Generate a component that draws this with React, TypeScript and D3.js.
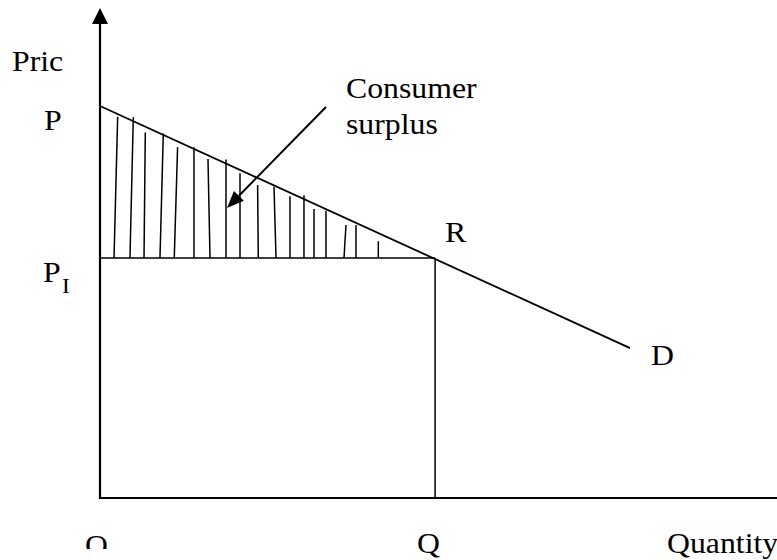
import React from "react";
import * as d3 from "d3";

// Abstract units (quantity on x, price on y)
const priceP = 8.0;
const priceP1 = 4.9;
const quantityQ = 4.95;
const demandEnd = { q: 7.83, p: 3.06 };
const demandStart = { q: 0, p: priceP };

// Hatch lines: bottom quantity, top quantity, top price
const hatchBottomQ = [0.207, 0.443, 0.65, 0.886, 1.097, 1.388, 1.625, 1.861, 2.068, 2.338, 2.6, 2.806, 3.013, 3.161, 3.338, 3.604, 3.781, 4.111];
const hatchTopQ = [0.261, 0.492, 0.669, 0.935, 1.146, 1.388, 1.595, 1.861, 2.068, 2.328, 2.57, 2.806, 3.013, 3.161, 3.338, 3.634, 3.781, 4.111];
const hatchTopP = [7.78, 7.77, 7.46, 7.44, 7.16, 7.16, 6.92, 6.91, 6.63, 6.39, 6.35, 6.16, 6.18, 5.9, 5.86, 5.57, 5.57, 5.24];

const arrowFrom = { q: 3.338, p: 7.98 };
const arrowTo = { q: 1.876, p: 5.92 };

const W = 777;
const H = 560;
const FONT = "'Liberation Serif', 'Times New Roman', Times, serif";
const FS = 30;
const SX = 1.06;

const x = d3.scaleLinear().domain([0, 10]).range([100, 777]);
const y = d3.scaleLinear().domain([0, 10]).range([498, 8]);

function Label({ px, py, text, size = FS }: { px: number; py: number; text: string; size?: number }) {
  return (
    <text
      transform={`translate(${px},${py}) scale(${SX},1)`}
      fontFamily={FONT}
      fontSize={size}
      fill="#000"
    >
      {text}
    </text>
  );
}

export default function App() {
  const line = d3.line<{ q: number; p: number }>().x((d) => x(d.q)).y((d) => y(d.p));
  const demandPath = line([demandStart, demandEnd]) || "";

  const ax1 = x(arrowFrom.q), ay1 = y(arrowFrom.p);
  const ax2 = x(arrowTo.q), ay2 = y(arrowTo.p);
  const ang = Math.atan2(ay2 - ay1, ax2 - ax1);
  const headLen = 17, headHalf = 7;
  const bx = ax2 - headLen * Math.cos(ang), by = ay2 - headLen * Math.sin(ang);
  const head = [
    [ax2, ay2],
    [bx + headHalf * Math.sin(ang), by - headHalf * Math.cos(ang)],
    [bx - headHalf * Math.sin(ang), by + headHalf * Math.cos(ang)],
  ];

  const x0 = x(0), yAxis = y(0), yTop = y(10);

  return (
    <svg width={W} height={H} style={{ position: "absolute", left: 0, top: 0, background: "#fff" }}>
      <defs>
        <clipPath id="oclip">
          <rect x={0} y={0} width={W} height={549} />
        </clipPath>
      </defs>
      <rect x={0} y={0} width={W} height={H} fill="#fff" />
      {/* axes */}
      <line x1={x0} y1={yAxis} x2={x0} y2={yTop + 14} stroke="#000" strokeWidth={2.2} />
      <polygon points={`${x0},${yTop} ${x0 - 8},${yTop + 16} ${x0 + 8},${yTop + 16}`} fill="#000" />
      <line x1={x0 - 1} y1={yAxis} x2={W} y2={yAxis} stroke="#000" strokeWidth={2.2} />

      {/* hatch */}
      {hatchBottomQ.map((bq, i) => (
        <line key={i} x1={x(bq)} y1={y(priceP1)} x2={x(hatchTopQ[i])} y2={y(hatchTopP[i])} stroke="#000" strokeWidth={1.5} />
      ))}

      {/* P1 line and Q line */}
      <line x1={x0} y1={y(priceP1)} x2={x(quantityQ)} y2={y(priceP1)} stroke="#000" strokeWidth={1.5} />
      <line x1={x(quantityQ)} y1={y(priceP1)} x2={x(quantityQ)} y2={yAxis} stroke="#000" strokeWidth={1.5} />

      {/* demand */}
      <path d={demandPath} stroke="#000" strokeWidth={1.8} fill="none" />

      {/* arrow */}
      <line x1={ax1} y1={ay1} x2={bx} y2={by} stroke="#000" strokeWidth={2} />
      <polygon points={head.map((p) => p.join(",")).join(" ")} fill="#000" />

      {/* labels */}
      <Label px={12} py={71} text="Pric" />
      <Label px={44} py={y(priceP) + 24} text="P" />
      <Label px={43} py={y(priceP1) + 24} text="P" />
      <Label px={62} py={y(priceP1) + 35} text="I" size={22} />
      <Label px={346} py={98} text="Consumer" />
      <Label px={346} py={134} text="surplus" />
      <Label px={x(quantityQ) + 10} py={y(priceP1) - 16} text="R" />
      <Label px={x(demandEnd.q) + 21} py={y(demandEnd.p) + 17} text="D" />
      <g clipPath="url(#oclip)">
        <Label px={85} py={555} text="O" />
      </g>
      <Label px={417} py={553} text="Q" />
      <Label px={667} py={553} text="Quantity" />
    </svg>
  );
}
